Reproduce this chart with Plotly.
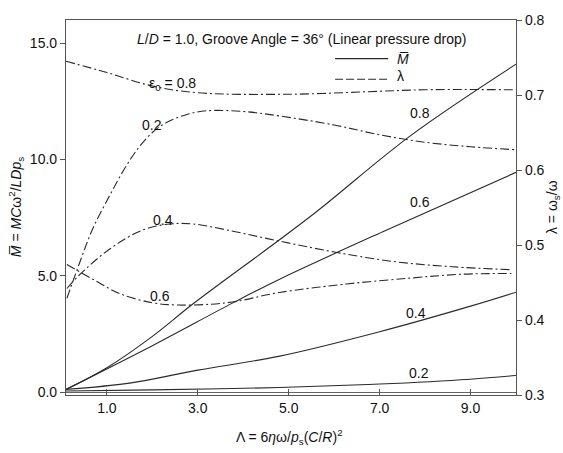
import plotly.graph_objects as go

# ---- data ----
# M-bar curves (left axis), by eccentricity
lam_M08 = [0.1, 1.0, 2.0, 2.89, 5.46, 7.66, 10.0]
M_08 = [0.12, 1.05, 2.4, 3.79, 7.53, 11.0, 14.1]
lam_M06 = [0.1, 2.0, 3.77, 4.8, 7.07, 10.0]
M_06 = [0.12, 2.0, 3.84, 4.86, 6.9, 9.45]
lam_M04 = [0.1, 1.5, 3.0, 4.8, 7.0, 9.0, 10.0]
M_04 = [0.12, 0.39, 0.95, 1.55, 2.6, 3.7, 4.3]
lam_M02 = [0.1, 2.0, 4.8, 7.0, 9.0, 10.0]
M_02 = [0.05, 0.1, 0.2, 0.35, 0.56, 0.72]

# whirl ratio curves (right axis)
lam_L08 = [0.1, 1.0, 2.0, 3.0, 5.0, 7.0, 8.0, 10.0]
L_08 = [0.745, 0.73, 0.712, 0.703, 0.701, 0.705, 0.707, 0.707]
lam_L02 = [0.12, 0.41, 0.69, 1.07, 1.4, 1.7, 2.0, 2.3, 2.76, 3.2, 4.0, 4.8, 6.0, 7.0, 8.0, 9.0, 10.0]
L_02 = [0.429, 0.478, 0.522, 0.567, 0.603, 0.630, 0.650, 0.663, 0.674, 0.679, 0.678, 0.672, 0.66, 0.647, 0.637, 0.631, 0.627]
lam_L04 = [0.12, 0.41, 1.07, 1.79, 2.38, 2.9, 3.64, 4.73, 5.97, 7.3, 8.6, 9.92]
L_04 = [0.442, 0.461, 0.495, 0.52, 0.528, 0.528, 0.52, 0.506, 0.491, 0.478, 0.471, 0.467]
lam_L06 = [0.12, 0.7, 1.29, 2.0, 2.53, 3.27, 3.86, 4.73, 6.27, 7.7, 8.8, 9.9]
L_06 = [0.474, 0.454, 0.435, 0.423, 0.42, 0.421, 0.425, 0.436, 0.448, 0.456, 0.461, 0.462]

x_ticks = [1.0, 3.0, 5.0, 7.0, 9.0]
y_ticks = [0.0, 5.0, 10.0, 15.0]
y2_ticks = [0.3, 0.4, 0.5, 0.6, 0.7, 0.8]

# curve labels: (text, lambda, M)
curve_labels = [
    ("ε<sub>0</sub> = 0.8", 2.45, 13.23),
    ("0.2", 1.99, 11.49),
    ("0.4", 2.23, 7.41),
    ("0.6", 2.16, 4.13),
    ("0.8", 7.88, 12.0),
    ("0.6", 7.88, 8.17),
    ("0.4", 7.81, 3.41),
    ("0.2", 7.86, 0.82),
]

FONT = "Liberation Sans, Arial, sans-serif"
LC = "#2a2a2a"
DASHDOT = "9px,3px,2px,3px"

fig = go.Figure()
for xs, ys in [(lam_M08, M_08), (lam_M06, M_06), (lam_M04, M_04), (lam_M02, M_02)]:
    fig.add_trace(go.Scatter(x=xs, y=ys, mode="lines", line=dict(color=LC, width=1.1),
                             showlegend=False, yaxis="y", line_shape="spline"))
for xs, ys in [(lam_L08, L_08), (lam_L02, L_02), (lam_L04, L_04), (lam_L06, L_06)]:
    fig.add_trace(go.Scatter(x=xs, y=ys, mode="lines",
                             line=dict(color=LC, width=1.1, dash=DASHDOT),
                             showlegend=False, yaxis="y2", line_shape="spline"))

annots = []
for t, xv, yv in curve_labels:
    annots.append(dict(x=xv, y=yv, xref="x", yref="y", text=t, showarrow=False,
                       xanchor="center", yanchor="middle",
                       font=dict(family=FONT, size=14, color="#111")))

annots += [
    dict(x=0.524, y=0.95, xref="paper", yref="paper", showarrow=False,
         xanchor="center", yanchor="middle",
         text="<i>L</i>/<i>D</i> = 1.0, Groove Angle = 36° (Linear pressure drop)",
         font=dict(family=FONT, size=14, color="#111")),
    dict(x=0.732, y=0.896, xref="paper", yref="paper", showarrow=False,
         xanchor="left", yanchor="middle",
         text="<i>M\u0305</i>", font=dict(family=FONT, size=14, color="#111")),
    dict(x=0.732, y=0.85, xref="paper", yref="paper", showarrow=False,
         xanchor="left", yanchor="middle",
         text="λ", font=dict(family=FONT, size=14, color="#111")),
    dict(x=-0.111, y=0.501, xref="paper", yref="paper", showarrow=False, textangle=-90,
         xanchor="center", yanchor="middle",
         text="<i>M\u0305</i> = <i>MC</i>ω<sup>2</sup>/<i>LDp</i><sub>s</sub>",
         font=dict(family=FONT, size=14, color="#111")),
    dict(x=0.497, y=-0.111, xref="paper", yref="paper", showarrow=False,
         xanchor="center", yanchor="middle",
         text="Λ = 6<i>η</i>ω/<i>p</i><sub>s</sub>(<i>C</i>/<i>R</i>)<sup>2</sup>",
         font=dict(family=FONT, size=14, color="#111")),
    dict(x=1.082, y=0.501, xref="paper", yref="paper", showarrow=False, textangle=-90,
         xanchor="center", yanchor="middle",
         text="λ = ω<sub>s</sub>/ω",
         font=dict(family=FONT, size=14, color="#111")),
]

shapes = [
    dict(type="line", xref="paper", yref="paper", x0=0.598, x1=0.716, y0=0.897, y1=0.897,
         line=dict(color=LC, width=1.1)),
    dict(type="line", xref="paper", yref="paper", x0=0.598, x1=0.716, y0=0.842, y1=0.842,
         line=dict(color=LC, width=1.1, dash="8px,3px")),
]

fig.update_layout(
    width=563, height=453,
    margin=dict(l=66, r=47, t=16, b=58),
    paper_bgcolor="white", plot_bgcolor="white",
    font=dict(family=FONT, size=14, color="#111"),
    xaxis=dict(range=[0.1, 10.0], tickvals=x_ticks, tickformat=".1f",
               ticks="inside", ticklen=6, tickcolor="#555",
               showline=True, linecolor="#555", linewidth=1.2, mirror=True,
               showgrid=False, zeroline=False),
    yaxis=dict(range=[-0.12, 16.0], tickvals=y_ticks, tickformat=".1f",
               ticks="outside", ticklen=5, tickcolor="#555",
               showline=True, linecolor="#555", linewidth=1.2,
               showgrid=False, zeroline=True, zerolinecolor="#666", zerolinewidth=1),
    yaxis2=dict(range=[0.3, 0.8], tickvals=y2_ticks, tickformat=".1f",
                overlaying="y", side="right",
                ticks="outside", ticklen=5, tickcolor="#555",
                showline=True, linecolor="#555", linewidth=1.2,
                showgrid=False, zeroline=False),
    annotations=annots,
    shapes=shapes,
)

fig.write_html("out.html")
